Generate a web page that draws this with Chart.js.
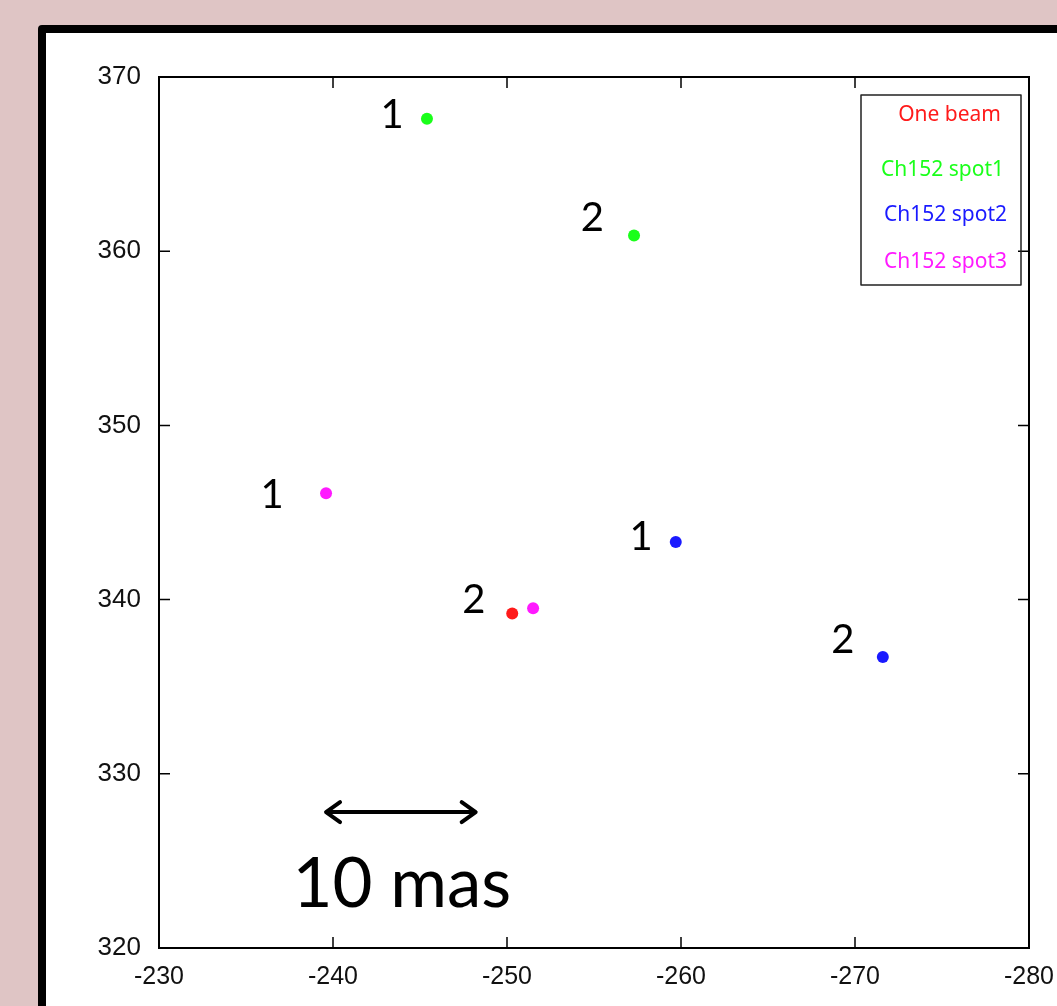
<!DOCTYPE html>
<html>
<head>
<meta charset="utf-8">
<script src="https://cdn.jsdelivr.net/npm/chart.js@4"></script>
<style>
  html, body { margin: 0; padding: 0; background: #dfc5c5; overflow: hidden; }
  #panel {
    position: absolute; left: 38px; top: 25px; width: 1100px; height: 1100px;
    background: #fff; border: 8px solid #000; border-radius: 4px; box-sizing: border-box;
  }
  #wrap { position: absolute; left: 0; top: 0; width: 1057px; height: 1006px; }
</style>
</head>
<body>
<div id="panel"></div>
<div id="wrap"><canvas id="chart" width="1057" height="1006"></canvas></div>
<script>
// series (x = RA offset, y = Dec offset)
const seriesNames = ['One beam', 'Ch152 spot1', 'Ch152 spot2', 'Ch152 spot3'];
const seriesColors = ['#ff1a1a', '#1aff1a', '#1a1aff', '#ff1aff'];
const oneBeamX = [-250.3];
const oneBeamY = [339.2];
const spot1X = [-245.4, -257.3];
const spot1Y = [367.6, 360.9];
const spot2X = [-259.7, -271.6];
const spot2Y = [343.3, 336.7];
const spot3X = [-239.6, -251.5];
const spot3Y = [346.1, 339.5];

// epoch number labels near the spots
const epochText = ['1', '2', '1', '2', '1', '2'];
const epochX = [-243.4, -254.9, -236.5, -248.1, -257.7, -269.3];
const epochY = [367.8, 361.9, 346.0, 340.0, 343.6, 337.7];

// scale bar
const barX = [-239.6, -248.2];
const barY = 327.8;
const barText = '10 mas';

const xTicks = [-230, -240, -250, -260, -270, -280];
const yTicks = [320, 330, 340, 350, 360, 370];

function pts(xs, ys) { return xs.map((x, i) => ({ x: x, y: ys[i] })); }

const decor = {
  id: 'decor',
  afterDraw(chart) {
    const ctx = chart.ctx;
    const a = chart.chartArea;
    const xs = chart.scales.x, ys = chart.scales.y;
    ctx.save();
    // frame
    ctx.strokeStyle = '#000';
    ctx.lineWidth = 2;
    ctx.strokeRect(a.left, a.top, a.right - a.left, a.bottom - a.top);
    // inward ticks on all sides
    ctx.lineWidth = 1.5;
    const tl = 11;
    ctx.beginPath();
    xTicks.forEach(v => {
      const px = xs.getPixelForValue(v);
      ctx.moveTo(px, a.bottom); ctx.lineTo(px, a.bottom - tl);
      ctx.moveTo(px, a.top); ctx.lineTo(px, a.top + tl);
    });
    yTicks.forEach(v => {
      const py = ys.getPixelForValue(v);
      ctx.moveTo(a.left, py); ctx.lineTo(a.left + tl, py);
      ctx.moveTo(a.right, py); ctx.lineTo(a.right - tl, py);
    });
    ctx.stroke();

    // epoch labels
    ctx.fillStyle = '#000';
    ctx.font = '40px Lato';
    ctx.textAlign = 'center';
    ctx.textBaseline = 'middle';
    epochText.forEach((t, i) => {
      ctx.fillText(t, xs.getPixelForValue(epochX[i]), ys.getPixelForValue(epochY[i]));
    });

    // scale bar arrow
    const x1 = xs.getPixelForValue(barX[0]), x2 = xs.getPixelForValue(barX[1]);
    const yb = ys.getPixelForValue(barY);
    ctx.strokeStyle = '#000';
    ctx.lineWidth = 4;
    ctx.lineCap = 'round';
    ctx.lineJoin = 'round';
    ctx.beginPath();
    ctx.moveTo(x1 + 2, yb); ctx.lineTo(x2 - 2, yb);
    ctx.moveTo(x1 + 14, yb - 10); ctx.lineTo(x1, yb); ctx.lineTo(x1 + 14, yb + 10);
    ctx.moveTo(x2 - 14, yb - 10); ctx.lineTo(x2, yb); ctx.lineTo(x2 - 14, yb + 10);
    ctx.stroke();
    ctx.font = '69px Lato';
    ctx.fillText(barText, (x1 + x2) / 2 + 1, yb + 73);

    // legend box
    const lx = 861, ly = 95, lw = 160, lh = 190;
    ctx.lineWidth = 1.5;
    ctx.strokeStyle = '#222';
    ctx.strokeRect(lx, ly, lw, lh);
    ctx.font = '21px "Noto Sans"';
    ctx.textAlign = 'right';
    const rows = [115, 170, 215, 262];
    const rights = [1001, 1004, 1007, 1007];
    seriesNames.forEach((n, i) => {
      ctx.fillStyle = seriesColors[i];
      ctx.fillText(n, rights[i], rows[i]);
    });
    ctx.restore();
  }
};

new Chart(document.getElementById('chart'), {
  type: 'scatter',
  data: {
    datasets: [
      { label: seriesNames[0], data: pts(oneBeamX, oneBeamY), backgroundColor: seriesColors[0] },
      { label: seriesNames[1], data: pts(spot1X, spot1Y), backgroundColor: seriesColors[1] },
      { label: seriesNames[2], data: pts(spot2X, spot2Y), backgroundColor: seriesColors[2] },
      { label: seriesNames[3], data: pts(spot3X, spot3Y), backgroundColor: seriesColors[3] }
    ].map(d => Object.assign(d, { pointRadius: 6, pointBorderWidth: 0, borderColor: d.backgroundColor }))
  },
  options: {
    responsive: false,
    animation: false,
    layout: { padding: { left: 0, top: 77, right: 28, bottom: 0 } },
    plugins: { legend: { display: false }, tooltip: { enabled: false } },
    scales: {
      x: {
        type: 'linear', min: -280, max: -230, reverse: true,
        afterBuildTicks: s => { s.ticks = xTicks.map(v => ({ value: v })); },
        afterFit: s => { s.height = 58; s.paddingLeft = 0; s.paddingRight = 0; },
        grid: { display: false },
        border: { display: false },
        ticks: { color: '#111', font: { family: '"Liberation Sans"', size: 25 }, padding: 6, maxRotation: 0 }
      },
      y: {
        type: 'linear', min: 320, max: 370,
        afterBuildTicks: s => { s.ticks = yTicks.map(v => ({ value: v })); },
        afterFit: s => { s.width = 159; s.paddingTop = 0; s.paddingBottom = 0; },
        grid: { display: false },
        border: { display: false },
        ticks: { color: '#111', font: { family: '"Liberation Sans"', size: 26 }, padding: 10 }
      }
    }
  },
  plugins: [decor]
});
</script>
</body>
</html>
